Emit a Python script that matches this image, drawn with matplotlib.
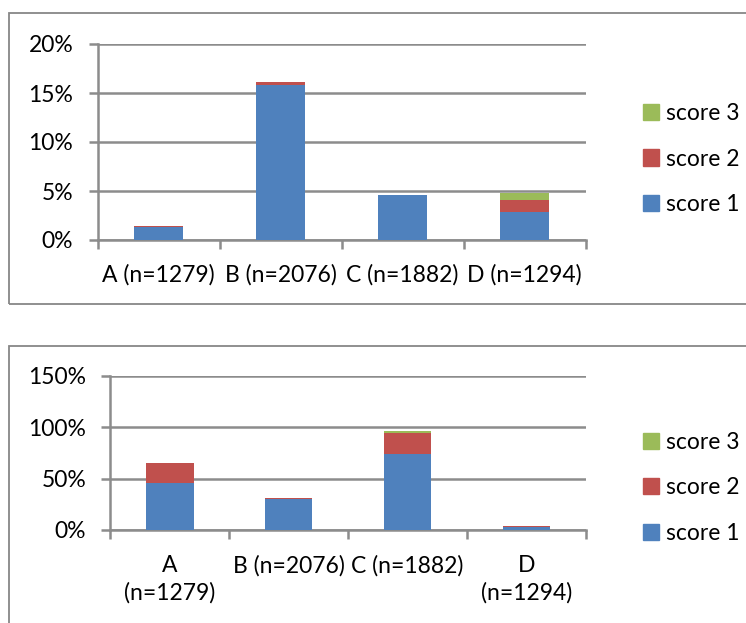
import numpy as np
import matplotlib
matplotlib.use("Agg")
import matplotlib.pyplot as plt
from matplotlib.patches import Rectangle, Patch
from matplotlib.ticker import FuncFormatter

# ── data ─────────────────────────────────────────────────────────
top_labels = ["A (n=1279)", "B (n=2076)", "C (n=1882)", "D (n=1294)"]
top_s1 = [1.35, 15.8, 4.55, 2.9]
top_s2 = [0.1, 0.3, 0.0, 1.15]
top_s3 = [0.0, 0.0, 0.0, 0.75]

bot_labels = ["A\n(n=1279)", "B (n=2076)", "C (n=1882)", "D\n(n=1294)"]
bot_s1 = [45.5, 30.2, 73.7, 2.9]
bot_s2 = [19.5, 1.3, 20.8, 1.0]
bot_s3 = [0.0, 0.0, 1.9, 0.0]

series_names = ["score 1", "score 2", "score 3"]
colors = ["#4F81BD", "#C0504D", "#9BBB59"]

plt.rcParams["font.family"] = ["Lato", "DejaVu Sans"]
FS = 16.5
GRID = "#8c8c8c"

W, H = 746, 623
fig = plt.figure(figsize=(W / 100, H / 100), dpi=100)

def px_axes(x0, y0, x1, y1):
    return fig.add_axes([x0 / W, 1 - y1 / H, (x1 - x0) / W, (y1 - y0) / H])

def frame(x0, y0, x1, y1):
    r = Rectangle((x0 / W, 1 - y1 / H), (x1 - x0) / W, (y1 - y0) / H,
                  transform=fig.transFigure, fill=False, ec="#878787", lw=1.3)
    fig.add_artist(r)

def draw(ax, labels, s1, s2, s3, ymax, step, legend_y, pad):
    x = np.arange(len(labels))
    b1 = np.array(s1); b2 = np.array(s2); b3 = np.array(s3)
    for vals, bottom, c in [(b1, 0, colors[0]), (b2, b1, colors[1]), (b3, b1 + b2, colors[2])]:
        ax.bar(x, vals, 0.4, bottom=bottom, color=c, linewidth=0, zorder=3)
    ax.set_xlim(-0.5, len(labels) - 0.5)
    ax.set_ylim(0, ymax)
    ax.set_yticks(np.arange(0, ymax + step / 2, step))
    ax.yaxis.set_major_formatter(FuncFormatter(lambda v, p: f"{v:.0f}%"))
    ax.grid(axis="y", color=GRID, lw=1.8, zorder=0)
    for s in ["top", "right"]:
        ax.spines[s].set_visible(False)
    for s in ["left", "bottom"]:
        ax.spines[s].set_color(GRID); ax.spines[s].set_linewidth(1.8)
    ax.tick_params(axis="y", length=6.5, width=1.8, color=GRID, pad=11, labelsize=FS)
    ax.set_xticks(np.arange(-0.5, len(labels), 1.0))
    ax.set_xticklabels([])
    ax.tick_params(axis="x", which="major", length=6.5, width=1.8, color=GRID)
    ax.set_xticks(x, minor=True)
    ax.set_xticklabels(labels, minor=True, fontsize=FS, linespacing=1.35)
    ax.tick_params(axis="x", which="minor", length=0, pad=pad)
    handles = [Patch(color=colors[i], label=series_names[i]) for i in (2, 1, 0)]
    fig.legend(handles=handles, loc="center left", bbox_to_anchor=(622 / W, 1 - legend_y / H),
               frameon=False, fontsize=FS, handlelength=0.7, handleheight=0.7,
               handletextpad=0.3, labelspacing=1.05)

# top chart
frame(9, 13, 760, 304)
axT = px_axes(97.6, 44, 585.7, 240)
draw(axT, top_labels, top_s1, top_s2, top_s3, 20, 5, 159, 17)

# bottom chart
frame(9, 346, 760, 640)
axB = px_axes(110.5, 376, 585.7, 530)
draw(axB, bot_labels, bot_s1, bot_s2, bot_s3, 150, 50, 488, 18)

fig.savefig("out.png", dpi=100)
